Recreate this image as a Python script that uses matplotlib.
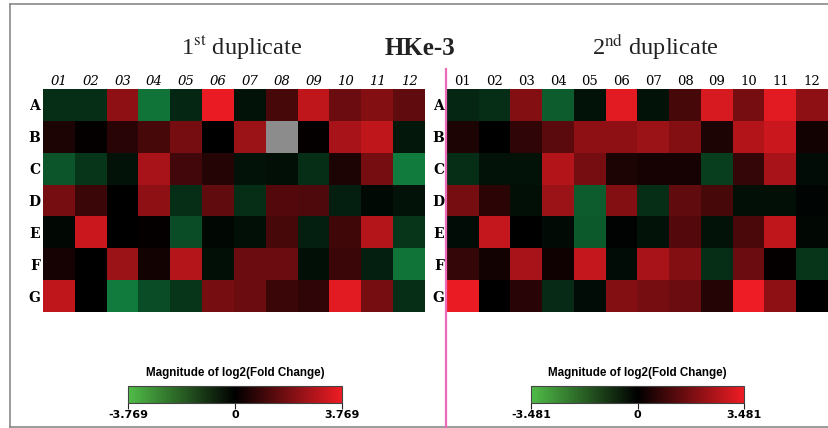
import numpy as np
import matplotlib
matplotlib.use("Agg")
import matplotlib.pyplot as plt
from matplotlib.colors import LinearSegmentedColormap, Normalize
from matplotlib.lines import Line2D
from matplotlib.cm import ScalarMappable

rows = ["A", "B", "C", "D", "E", "F", "G"]
cols = ["01", "02", "03", "04", "05", "06", "07", "08", "09", "10", "11", "12"]

# log2 fold change, first duplicate (B08 missing)
dup1 = [
    [-1.13, -1.13, 2.26, -2.83, -0.94, 3.69, -0.45, 1.13, 3.02, 1.70, 2.07, 1.51],
    [0.45, 0.08, 0.64, 1.13, 1.88, 0.00, 2.45, np.nan, 0.08, 2.64, 3.02, -0.57],
    [-2.07, -1.32, -0.45, 2.64, 1.06, 0.57, -0.45, -0.38, -1.13, 0.45, 1.88, -3.02],
    [1.88, 0.94, 0.00, 2.26, -1.13, 1.51, -1.13, 1.32, 1.21, -0.75, -0.23, -0.45],
    [-0.19, 3.20, 0.00, 0.08, -1.88, -0.19, -0.38, 1.13, -0.75, 1.02, 2.83, -1.32],
    [0.38, 0.00, 2.45, 0.30, 2.83, -0.38, 1.70, 1.70, -0.38, 0.94, -0.75, -2.83],
    [3.02, 0.00, -3.02, -1.88, -1.32, 1.88, 1.70, 0.94, 0.75, 3.58, 1.88, -1.13],
]

# log2 fold change, second duplicate
dup2 = [
    [-0.87, -1.04, 1.91, -2.09, -0.42, 3.31, -0.42, 1.04, 3.13, 1.74, 3.31, 2.09],
    [0.42, 0.00, 0.70, 1.32, 2.09, 2.09, 2.26, 1.91, 0.42, 2.61, 2.96, 0.28],
    [-1.04, -0.42, -0.42, 2.61, 1.74, 0.42, 0.35, 0.35, -1.39, 0.77, 2.44, -0.28],
    [1.74, 0.63, -0.35, 2.26, -2.09, 1.91, -1.04, 1.39, 1.04, -0.35, -0.35, -0.10],
    [-0.28, 2.85, 0.00, -0.24, -2.02, -0.07, -0.42, 1.22, -0.42, 1.11, 2.78, -0.17],
    [0.77, 0.28, 2.44, 0.24, 2.85, -0.28, 2.44, 1.91, -1.04, 1.57, 0.07, -1.22],
    [3.41, 0.00, 0.59, -0.97, -0.28, 1.91, 1.74, 1.57, 0.52, 3.48, 2.09, 0.00],
]

limit1 = 3.769
limit2 = 3.481

W, H = 829, 428
fig = plt.figure(figsize=(W / 100, H / 100), dpi=100)
fig.patch.set_facecolor("white")
plt.rcParams["mathtext.fontset"] = "stix"


def box(x0, y0, x1, y1):
    """Pixel box (top-left origin) -> figure rect."""
    return [x0 / W, 1 - y1 / H, (x1 - x0) / W, (y1 - y0) / H]


cell_cmap = LinearSegmentedColormap.from_list(
    "gbr_cells", ["#169a4c", "#000000", "#ee1c24"])
cell_cmap.set_bad("#8c8c8c")
bar_cmap = LinearSegmentedColormap.from_list(
    "gbr_bar", ["#50bc48", "#000000", "#ee1c24"])

serif = "DejaVu Serif"


def heatmap(rect, data, limit, italic_cols=False):
    ax = fig.add_axes(rect)
    arr = np.ma.masked_invalid(np.array(data, dtype=float))
    ax.imshow(arr, cmap=cell_cmap, vmin=-limit, vmax=limit,
              aspect="auto", interpolation="nearest")
    ax.set_xticks(np.arange(len(cols)))
    ax.set_xticklabels(cols, fontfamily=serif, fontsize=9.5,
                       fontstyle="italic" if italic_cols else "normal")
    ax.set_yticks(np.arange(len(rows)))
    ax.set_yticklabels(rows, fontfamily=serif, fontsize=10, fontweight="bold")
    ax.xaxis.tick_top()
    ax.tick_params(axis="x", length=0, pad=0.5)
    ax.tick_params(axis="y", length=0, pad=2)
    for s in ax.spines.values():
        s.set_visible(False)
    return ax


heatmap(box(43, 89, 425, 312), dup1, limit1, italic_cols=True)
heatmap(box(447, 89, 828, 312), dup2, limit2)


def colorbar(x0, x1, limit):
    cax = fig.add_axes(box(x0, 386, x1, 403))
    sm = ScalarMappable(norm=Normalize(-limit, limit), cmap=bar_cmap)
    cb = fig.colorbar(sm, cax=cax, orientation="horizontal")
    cb.outline.set_edgecolor("#444444")
    cb.outline.set_linewidth(0.8)
    cb.set_ticks([-limit, 0, limit])
    cb.set_ticklabels([f"-{limit:.3f}", "0", f"{limit:.3f}"])
    cax.tick_params(length=4, width=0.8, color="#222222", pad=1)
    for lbl in cax.get_xticklabels():
        lbl.set_fontfamily("DejaVu Sans")
        lbl.set_fontweight("bold")
        lbl.set_fontsize(8)
    fig.text((x0 + x1) / 2 / W, 1 - 373 / H, "Magnitude of log2(Fold Change)",
             ha="center", va="center", fontfamily="Liberation Sans",
             fontweight="bold", fontsize=8.4)


colorbar(128, 342, limit1)
colorbar(531, 744, limit2)

# headings
title_kw = dict(ha="center", va="baseline", fontfamily="Liberation Serif",
                fontsize=17.5, color="#222222")
fig.text(242 / W, 1 - 55 / H, r"1$^{\mathrm{st}}$ duplicate", **title_kw)
fig.text(655 / W, 1 - 55 / H, r"2$^{\mathrm{nd}}$ duplicate", **title_kw)
fig.text(420 / W, 1 - 55 / H, "HKe-3", ha="center", va="baseline",
         fontfamily="Liberation Serif", fontweight="bold", fontsize=18,
         color="#222222")

# outer frame and separator
frame = "#8a8a8a"
fig.add_artist(Line2D([10 / W, 1], [1 - 4 / H, 1 - 4 / H], color=frame, lw=1.2))
fig.add_artist(Line2D([10 / W, 10 / W], [1 - 4 / H, 1 - 427 / H], color=frame, lw=1.2))
fig.add_artist(Line2D([10 / W, 1], [1 - 427 / H, 1 - 427 / H], color=frame, lw=1.2))
fig.add_artist(Line2D([446 / W, 446 / W], [1 - 69 / H, 0], color="#ec6ab8", lw=1.6))

fig.savefig("out.png", dpi=100, facecolor="white")
